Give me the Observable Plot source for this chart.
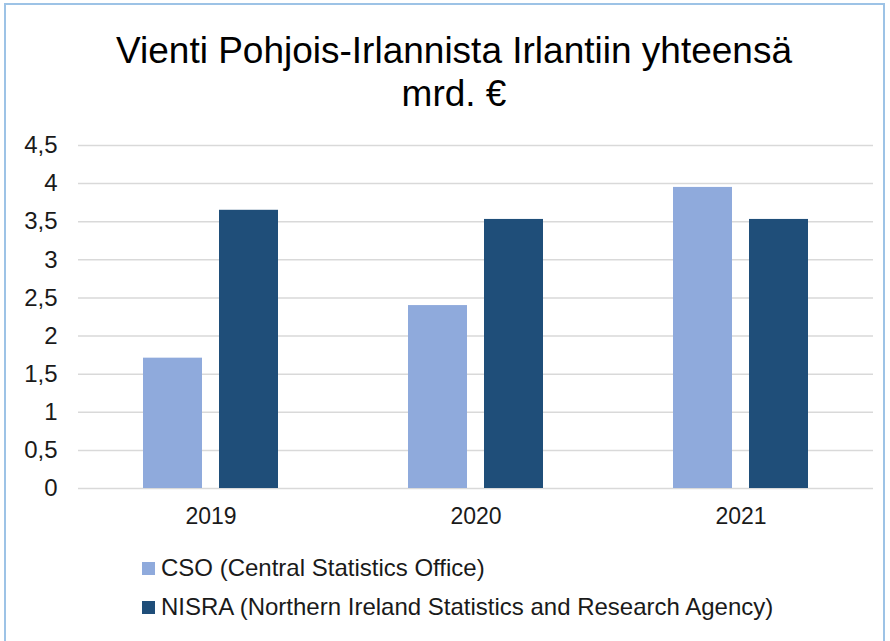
<!DOCTYPE html>
<html><head><meta charset="utf-8">
<script src="https://cdn.jsdelivr.net/npm/d3@7"></script>
<script src="https://cdn.jsdelivr.net/npm/@observablehq/plot@0.6"></script>
<style>
html,body{margin:0;padding:0;background:#fff;overflow:hidden;}
body{width:890px;height:641px;position:relative;font-family:"Liberation Sans",Arial,sans-serif;}
#frame{position:absolute;left:4px;top:3px;width:881px;height:660px;border:2px solid #9dc3e6;box-sizing:border-box;}
#title{position:absolute;left:0;top:29px;width:908px;text-align:center;font-size:37px;line-height:43px;color:#000;}
#chart{position:absolute;left:0;top:125px;}
.leg{position:absolute;left:142px;font-size:24px;color:#1a1a1a;display:flex;align-items:center;white-space:nowrap;}
.sw{width:13px;height:13px;margin-right:6px;display:inline-block;}
</style></head>
<body>
<div id="frame"></div>
<div id="title">Vienti Pohjois-Irlannista Irlantiin yhteensä<br>mrd. €</div>
<div id="chart"></div>
<div id="legend"></div>
<script>
const years = ["2019", "2020", "2021"];
const seriesNames = ["CSO (Central Statistics Office)", "NISRA (Northern Ireland Statistics and Research Agency)"];
const csoValues = [1.71, 2.40, 3.95];
const nisraValues = [3.65, 3.53, 3.53];
const seriesColors = ["#8faadc", "#1f4e79"];
const yTicks = [0, 0.5, 1, 1.5, 2, 2.5, 3, 3.5, 4, 4.5];

const data = [];
years.forEach((yr, i) => {
  data.push({year: yr, series: seriesNames[0], value: csoValues[i]});
  data.push({year: yr, series: seriesNames[1], value: nisraValues[i]});
});

const plot = Plot.plot({
  width: 890,
  height: 413,
  marginLeft: 78,
  marginRight: 17,
  marginTop: 20,
  marginBottom: 50,
  style: {fontFamily: "'Liberation Sans', Arial, sans-serif", fontSize: "23px", color: "#1a1a1a", background: "transparent"},
  fx: {domain: years, paddingInner: 0, paddingOuter: 0, label: null, tickSize: 0, tickPadding: 19},
  x: {domain: seriesNames, axis: null, paddingInner: 0.224, paddingOuter: 0.855},
  y: {domain: [0, 4.5], ticks: yTicks, tickSize: 0, tickPadding: 21, label: null,
      tickFormat: d => String(d).replace(".", ",")},
  color: {domain: seriesNames, range: seriesColors},
  marks: [
    Plot.ruleY(yTicks, {stroke: "#d9d9d9", strokeWidth: 1.5}),
    Plot.barY(data, {fx: "year", x: "series", y: "value", fill: "series"})
  ]
});
plot.querySelectorAll('[aria-label="y-axis tick label"] text, g[aria-label="y-axis tick label"]').forEach(el => el.style.fontSize = "24px");
document.getElementById("chart").appendChild(plot);

const legend = document.getElementById("legend");
seriesNames.forEach((s, i) => {
  const d = document.createElement("div");
  d.className = "leg";
  d.style.top = (554 + i * 39) + "px";
  d.innerHTML = `<span class="sw" style="background:${seriesColors[i]}"></span>${s}`;
  legend.appendChild(d);
});
</script>
</body></html>
